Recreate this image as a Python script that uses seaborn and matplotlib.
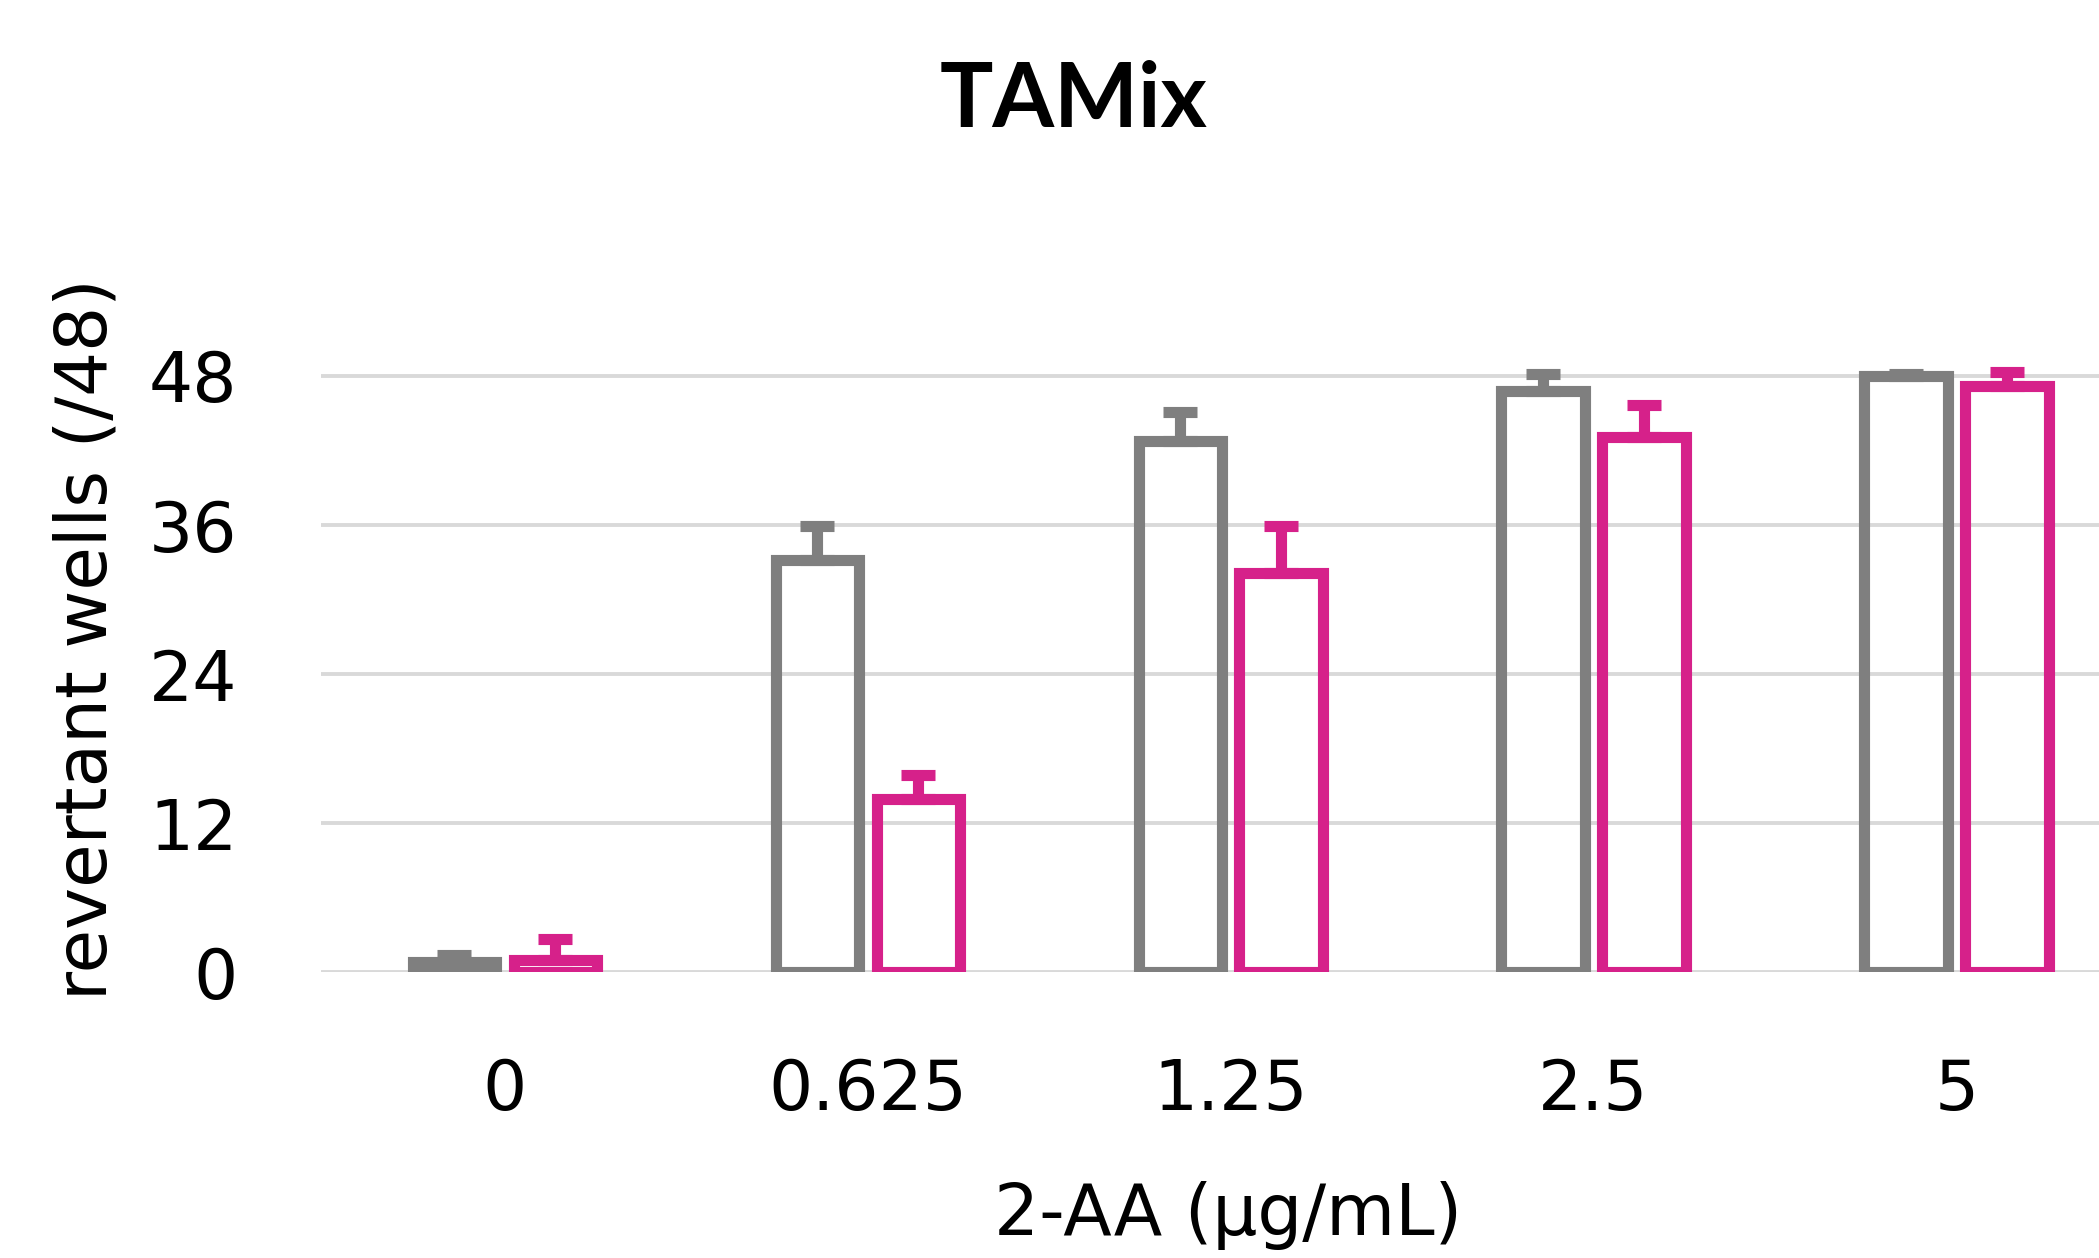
import numpy as np
import pandas as pd
import matplotlib as mpl
mpl.use('Agg')
import matplotlib.pyplot as plt
import seaborn as sns

# values
doses = ['0', '0.625', '1.25', '2.5', '5']
grey_mean = [0.8, 33.2, 42.8, 46.8, 48.0]
grey_err = [0.6, 2.7, 2.3, 1.4, 0.2]
pink_mean = [1.0, 13.9, 32.1, 43.1, 47.2]
pink_err = [1.7, 2.0, 3.8, 2.6, 1.1]
yticks = [0, 12, 24, 36, 48]

grey = '#7F7F7F'
pink = '#D6218A'

df = pd.DataFrame({
	'dose': doses * 2,
	'series': ['grey'] * len(doses) + ['pink'] * len(doses),
	'wells': grey_mean + pink_mean,
})

sns.set_theme(style='white')
plt.rcParams['font.family'] = ['DejaVu Sans']
plt.rcParams['text.color'] = 'black'

fig = plt.figure(figsize=(20.99, 12.58), dpi=100)
ax = fig.add_axes([0.1529, 0.2273, 0.8471, 0.5133])

sns.barplot(data=df, x='dose', y='wells', hue='series', order=doses,
			palette=[grey, pink], fill=False, linewidth=8,
			width=0.556, gap=0.173, errorbar=None, legend=False, ax=ax)

# upper error bars on top of each bar
for cont, means, errs, col in zip(ax.containers, [grey_mean, pink_mean],
								  [grey_err, pink_err], [grey, pink]):
	xs = [p.get_x() + p.get_width() / 2 for p in cont]
	ax.errorbar(xs, means, yerr=[np.zeros(len(errs)), errs], fmt='none',
				ecolor=col, elinewidth=8, capsize=12, capthick=8,
				clip_on=False, zorder=3)

for p in ax.patches:
	p.set_joinstyle('miter')

ax.set_xlim(-0.507, 4.393)
ax.set_ylim(0, 52)
ax.set_yticks(yticks)
ax.set_yticklabels([str(t) for t in yticks])
ax.yaxis.grid(True, color='#D9D9D9', lw=2.8)
ax.xaxis.grid(False)
ax.set_axisbelow(True)
for s in ax.spines.values():
	s.set_visible(False)
ax.tick_params(axis='y', length=0, pad=60, labelsize=50, colors='black')
ax.tick_params(axis='x', length=0, pad=61, labelsize=50, colors='black')
ax.set_xlabel('')
ax.set_ylabel('')

fig.text(0.5117, 0.899, 'TAMix', ha='center', va='baseline', color='black',
		 fontsize=64, fontweight='bold', family=['Lato', 'DejaVu Sans'])
fig.text(0.0415, 0.492, 'revertant wells (/48)', rotation=90, color='black',
		 ha='center', va='center', fontsize=51)
fig.text(0.585, 0.0334, '2-AA (µg/mL)', ha='center', va='center',
		 color='black', fontsize=51)

fig.savefig('out.png', dpi=100)
